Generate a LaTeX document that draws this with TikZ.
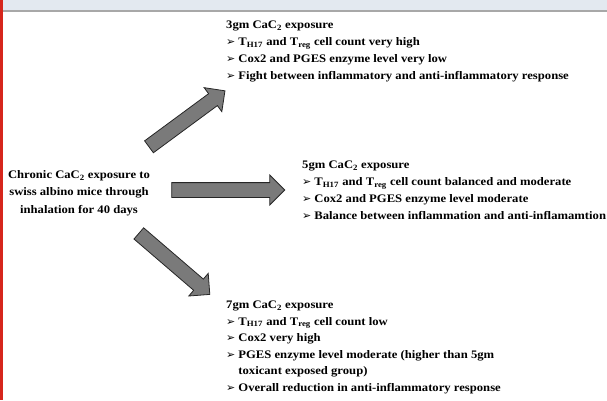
\documentclass[tikz,border=0pt]{standalone}
\usepackage{fontspec}
\setmainfont{Liberation Serif}[FakeStretch=1.1]
\newfontfamily\bulletfont{DejaVu Sans}
\usepackage{xcolor}
\usepackage{tikz}
\usetikzlibrary{arrows.meta}
\usetikzlibrary{shapes.arrows, calc}

\definecolor{bandblue}{HTML}{E3E9F0}
\definecolor{bargray}{HTML}{A8A8A8}
\definecolor{barred}{HTML}{D6261C}
\definecolor{arrowgray}{HTML}{7A7A7A}

\newcommand{\itm}{{\bulletfont\fontsize{11}{11}\selectfont ➢}}
\newcommand{\blockarrow}[2]{%
  \path let \p1=($(#2)-(#1)$), \n1={atan2(\y1,\x1)}, \n2={veclen(\x1,\y1)} in
    node[bigarrow, rotate=\n1, minimum height=\n2] at ($(#1)!0.5!(#2)$) {};}

\tikzset{
  bigarrow/.style={single arrow, draw=black!85, fill=arrowgray, line width=0.8pt,
    inner sep=7pt, single arrow head extend=7.5pt},
  textblock/.style={inner sep=0pt, anchor=north west,
    font=\bfseries\fontsize{11.5}{17}\selectfont},
}

\begin{document}
\begin{tikzpicture}[x=1pt, y=-1pt]
    \useasboundingbox (0,0) rectangle (607,400);

    % Bandeau
    \fill[bandblue] (0,0) rectangle (607,9.5);
    \fill[bargray] (0,9.5) rectangle (607,12);
    \fill[barred] (0,0) rectangle (3.3,400);

    % Texte de gauche
    \node[inner sep=0pt, align=center, font=\bfseries\fontsize{11.5}{17.5}\selectfont]
        (src) at (79,193) {Chronic CaC\textsubscript{2} exposure to\\
        swiss albino mice through\\ inhalation for 40 days};

    % Groupes
    \node[textblock] (low) at (226,16.6) {\begin{tabular}{@{}l@{\hspace{3pt}}l@{}}
        \multicolumn{2}{@{}l}{3gm CaC\textsubscript{2} exposure}\\
        \itm & T\textsubscript{H17} and T\textsubscript{reg} cell count very high\\
        \itm & Cox2 and PGES enzyme level very low\\
        \itm & Fight between inflammatory and anti-inflammatory response
    \end{tabular}};
    \node[textblock] (mid) at (302,156.6) {\begin{tabular}{@{}l@{\hspace{3pt}}l@{}}
        \multicolumn{2}{@{}l}{5gm CaC\textsubscript{2} exposure}\\
        \itm & T\textsubscript{H17} and T\textsubscript{reg} cell count balanced and moderate\\
        \itm & Cox2 and PGES enzyme level moderate\\
        \itm & Balance between inflammation and anti-inflamamtion
    \end{tabular}};
    \node[textblock, font=\bfseries\fontsize{11.5}{16.5}\selectfont] (high) at (226,296.8)
        {\begin{tabular}{@{}l@{\hspace{3pt}}l@{}}
        \multicolumn{2}{@{}l}{7gm CaC\textsubscript{2} exposure}\\
        \itm & T\textsubscript{H17} and T\textsubscript{reg} cell count low\\
        \itm & Cox2 very high\\
        \itm & PGES enzyme level moderate (higher than 5gm\\
             & toxicant exposed group)\\
        \itm & Overall reduction in anti-inflammatory response
    \end{tabular}};

    % Fleches
    \coordinate (upS) at (146,149);
    \coordinate (upE) at (222,93);
    \coordinate (rtS) at (168,190);
    \coordinate (rtE) at (281,190);
    \coordinate (dnS) at (136,231);
    \coordinate (dnE) at (207,292);
    \blockarrow{upS}{upE}
    \blockarrow{rtS}{rtE}
    \blockarrow{dnS}{dnE}
\end{tikzpicture}
\end{document}
